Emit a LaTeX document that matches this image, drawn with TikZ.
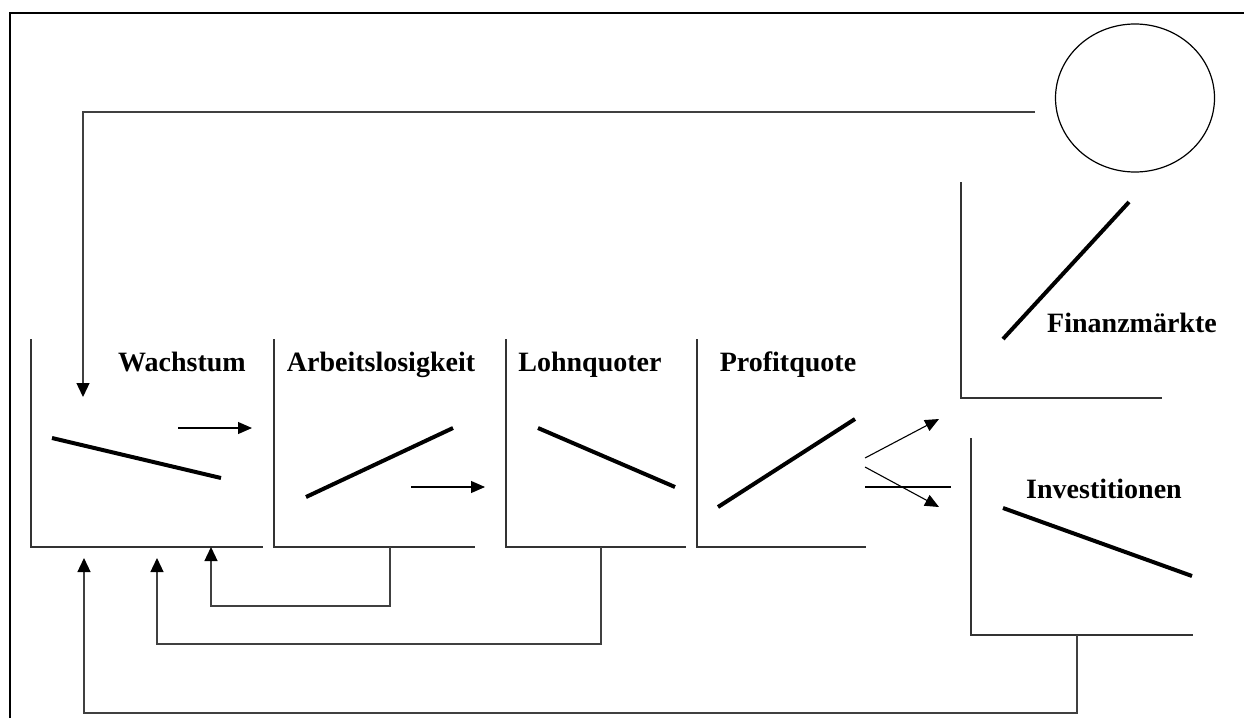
\documentclass[tikz,border=0pt]{standalone}
\usepackage{fontspec}
\setmainfont{Liberation Serif}
\usetikzlibrary{arrows.meta,shapes.geometric}
\begin{document}
\begin{tikzpicture}[x=1pt,y=-1pt,
  axis/.style={line width=1.3pt, draw=black!80},
  curve/.style={line width=4pt},
  fb/.style={line width=1.3pt, draw=black!75, -{Triangle[length=14pt,width=13pt,color=black]}},
  arr/.style={line width=1.1pt, -{Triangle[length=14pt,width=12pt]}},
  lab/.style={font=\bfseries\fontsize{28}{32}\selectfont, anchor=base, inner sep=0pt}]
\useasboundingbox (0,0) rectangle (1244,718);
% frame
\draw[line width=2.2pt] (10,718) -- (10,13) -- (1244,13);
% circle
\node[ellipse, draw, line width=1.2pt, minimum width=159pt, minimum height=148pt, inner sep=0pt] (circ) at (1135,98) {};
% panel axes
\coordinate (w0) at (31,547);
\draw[axis] (31,339) -- (w0) -- (263,547);
\coordinate (a0) at (274,547);
\draw[axis] (274,339) -- (a0) -- (475,547);
\coordinate (l0) at (506,547);
\draw[axis] (506,339) -- (l0) -- (686,547);
\coordinate (p0) at (697,547);
\draw[axis] (697,339) -- (p0) -- (866,547);
\coordinate (f0) at (961,398);
\draw[axis] (961,182) -- (f0) -- (1162,398);
\coordinate (i0) at (971,635);
\draw[axis] (971,438) -- (i0) -- (1193,635);
% labels
\node[lab] (lw) at (182,371) {Wachstum};
\node[lab] (la) at (381,371) {Arbeitslosigkeit};
\node[lab] (ll) at (590,371) {Lohnquoter};
\node[lab] (lp) at (788,371) {Profitquote};
\node[lab] (lf) at (1132,332) {Finanzmärkte};
\node[lab] (li) at (1104,498) {Investitionen};
% curves
\draw[curve] (52,438) -- (221,478);
\draw[curve] (306,497) -- (453,428);
\draw[curve] (538,428) -- (675,487);
\draw[curve] (718,507) -- (855,419);
\draw[curve] (1003,339) -- (1129,202);
\draw[curve] (1003,508) -- (1192,576);
% horizontal arrows
\coordinate (h1s) at (178,428); \coordinate (h1e) at (252,428);
\draw[arr] (h1s) -- (h1e);
\coordinate (h2s) at (411,487); \coordinate (h2e) at (485,487);
\draw[arr] (h2s) -- (h2e);
% split arrows
\coordinate (s1s) at (865,458); \coordinate (s1e) at (939,419);
\draw[arr] (s1s) -- (s1e);
\coordinate (s2s) at (865,467); \coordinate (s2e) at (939,507);
\draw[arr] (s2s) -- (s2e);
\coordinate (s3s) at (865,487); \coordinate (s3e) at (951,487);
\draw[line width=1.1pt] (s3s) -- (s3e);
% top feedback
\coordinate (tf) at (1035,112);
\coordinate (tw) at (83,397);
\draw[fb] (tf) -- (83,112) -- (tw);
% bottom feedbacks
\coordinate (b1) at (390,547); \coordinate (b1e) at (211,547);
\draw[fb] (b1) -- (390,606) -- (211,606) -- (b1e);
\coordinate (b2) at (601,547); \coordinate (b2e) at (157,558);
\draw[fb] (b2) -- (601,644) -- (157,644) -- (b2e);
\coordinate (b3) at (1077,635); \coordinate (b3e) at (84,558);
\draw[fb] (b3) -- (1077,713) -- (84,713) -- (b3e);
\end{tikzpicture}
\end{document}
